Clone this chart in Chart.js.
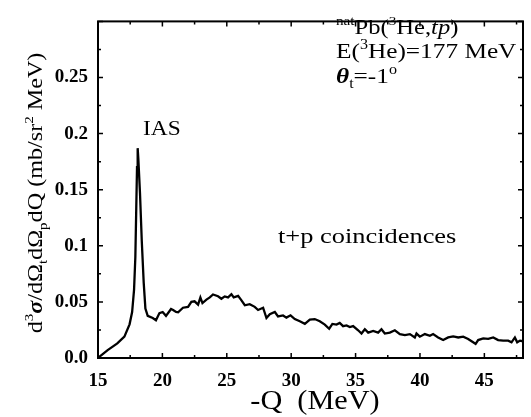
<!DOCTYPE html>
<html>
<head>
<meta charset="utf-8">
<script src="https://cdn.jsdelivr.net/npm/chart.js@4.4.0/dist/chart.umd.min.js"></script>
<style>
  html, body { margin: 0; padding: 0; background: #fff; }
</style>
</head>
<body>
<canvas id="spectrum" width="531" height="417"></canvas>
<script>
// -Q (MeV) and d3sigma/dOmega_t dOmega_p dQ (mb/sr^2 MeV)
const qMeV = [
  15.0, 15.1, 15.75, 16.5, 17.05, 17.45, 17.65, 17.8, 17.9, 17.97, 18.03, 18.08, 18.13,
  18.26, 18.4, 18.55, 18.68, 18.86, 19.25, 19.5, 19.77, 20.02, 20.28, 20.67, 20.83,
  21.06, 21.22, 21.6, 21.99, 22.25, 22.5, 22.77, 22.95, 23.11, 23.42, 23.68, 23.93,
  24.32, 24.58, 24.84, 25.1, 25.36, 25.54, 25.88, 26.14, 26.4, 26.78, 27.17, 27.43,
  27.82, 28.08, 28.34, 28.73, 28.98, 29.37, 29.63, 29.95, 30.28, 30.67, 31.06, 31.45,
  31.83, 32.22, 32.61, 32.95, 33.2, 33.52, 33.77, 34.03, 34.3, 34.55, 34.81, 35.2,
  35.46, 35.72, 35.98, 36.37, 36.75, 37.01, 37.27, 37.66, 38.05, 38.44, 38.83, 39.22,
  39.6, 39.73, 39.99, 40.38, 40.77, 41.02, 41.41, 41.8, 42.19, 42.58, 42.97, 43.36,
  43.74, 44.13, 44.32, 44.52, 44.91, 45.3, 45.69, 46.07, 46.46, 46.85, 47.11, 47.37,
  47.55, 47.77, 48.0
];
const crossSection = [
  0.0, 0.001, 0.007, 0.013, 0.019, 0.030, 0.041, 0.061, 0.090, 0.133, 0.170, 0.187, 0.178,
  0.147, 0.104, 0.067, 0.044, 0.0376, 0.0356, 0.0336, 0.040, 0.041, 0.0376, 0.0437, 0.0428,
  0.041, 0.0407, 0.0448, 0.0456, 0.050, 0.0505, 0.0476, 0.054, 0.049, 0.052, 0.054, 0.0566,
  0.055, 0.0528, 0.0549, 0.054, 0.0568, 0.054, 0.0554, 0.0514, 0.047, 0.048, 0.0456, 0.0428,
  0.0448, 0.0356, 0.039, 0.041, 0.037, 0.0379, 0.036, 0.038, 0.0347, 0.0327, 0.0304, 0.0342,
  0.0347, 0.0327, 0.0298, 0.0261, 0.0304, 0.0298, 0.0313, 0.0284, 0.029, 0.0276, 0.0284, 0.0247,
  0.0218, 0.0256, 0.0226, 0.0241, 0.0226, 0.0256, 0.0218, 0.0226, 0.0247, 0.0213, 0.0204, 0.0213,
  0.0183, 0.0218, 0.019, 0.0213, 0.0198, 0.0213, 0.0183, 0.016, 0.0183, 0.0192, 0.0183, 0.019,
  0.017, 0.014, 0.0126, 0.016, 0.0175, 0.017, 0.0183, 0.016, 0.0155, 0.0155, 0.014, 0.0183,
  0.014, 0.0155, 0.0149
];
const xTicks = [15, 20, 25, 30, 35, 40, 45];
const yTicks = [0, 0.05, 0.1, 0.15, 0.2, 0.25];

const SERIF = '"Liberation Serif", "Times New Roman", serif';

// draws a run of text pieces, some raised / lowered / italic
function drawRich(ctx, parts, x, y, size, stretch, anchor) {
  const fontOf = p => (p.style || '') + ' ' + Math.round(size * (p.sup || p.sub ? 0.62 : 1)) + 'px ' + SERIF;
  let w = 0;
  parts.forEach(p => { ctx.font = fontOf(p); p.w = ctx.measureText(p.t).width; w += p.w; });
  ctx.save();
  ctx.translate(x, y);
  ctx.scale(stretch, 1);
  ctx.fillStyle = '#000';
  ctx.textAlign = 'left';
  ctx.textBaseline = 'alphabetic';
  let cx = anchor === 'center' ? -w / 2 : 0;
  parts.forEach(p => {
    ctx.font = fontOf(p);
    const dy = p.sup ? -size * 0.42 : p.sub ? size * 0.22 : 0;
    ctx.fillText(p.t, cx, dy);
    cx += p.w;
  });
  ctx.restore();
}

const frameAndLabels = {
  id: 'frameAndLabels',
  afterDraw(chart) {
    const { ctx, chartArea: a, scales: { x, y } } = chart;
    ctx.save();
    ctx.strokeStyle = '#000';
    ctx.lineWidth = 1.5;
    // inward ticks, every 2.5 MeV and every 0.025
    for (let i = 0; i * 2.5 + 15 <= 48; i++) {
      const px = x.getPixelForValue(15 + i * 2.5);
      const len = i % 2 === 0 ? 5 : 3;
      ctx.beginPath();
      ctx.moveTo(px, a.bottom); ctx.lineTo(px, a.bottom - len);
      ctx.moveTo(px, a.top); ctx.lineTo(px, a.top + len);
      ctx.stroke();
    }
    for (let i = 0; i <= 12; i++) {
      const py = y.getPixelForValue(i * 0.025);
      const len = i % 2 === 0 ? 5 : 3;
      ctx.beginPath();
      ctx.moveTo(a.left, py); ctx.lineTo(a.left + len, py);
      ctx.moveTo(a.right, py); ctx.lineTo(a.right - len, py);
      ctx.stroke();
    }
    ctx.lineWidth = 2;
    ctx.strokeRect(a.left, a.top, a.right - a.left, a.bottom - a.top);
    ctx.restore();

    // y axis title
    ctx.save();
    ctx.translate(42, 193);
    ctx.rotate(-Math.PI / 2);
    drawRich(ctx, [
      { t: 'd' }, { t: '3', sup: true }, { t: 'σ', style: 'italic bold' }, { t: '/dΩ' },
      { t: 't', sub: true }, { t: 'dΩ' }, { t: 'p', sub: true }, { t: 'dQ (mb/sr' },
      { t: '2', sup: true }, { t: ' MeV)' }
    ], 0, 0, 21, 1.15, 'center');
    ctx.restore();

    // x axis title
    drawRich(ctx, [{ t: '-Q  (MeV)' }], 315, 409, 27, 1.12, 'center');

    // reaction annotation
    drawRich(ctx, [
      { t: 'nat', sup: true }, { t: 'Pb(' }, { t: '3', sup: true }, { t: 'He,' },
      { t: 'tp', style: 'italic' }, { t: ')' }
    ], 336, 34, 21, 1.17, 'left');
    drawRich(ctx, [
      { t: 'E(' }, { t: '3', sup: true }, { t: 'He)=177 MeV' }
    ], 336, 58, 22, 1.15, 'left');
    drawRich(ctx, [
      { t: 'θ', style: 'italic bold' }, { t: 't', sub: true }, { t: '=-1' }, { t: 'o', sup: true }
    ], 336, 83, 22, 1.15, 'left');

    drawRich(ctx, [{ t: 'IAS' }], 143, 135, 20, 1.17, 'left');
    drawRich(ctx, [{ t: 't+p coincidences' }], 278, 243, 22, 1.2, 'left');
  }
};

new Chart(document.getElementById('spectrum'), {
  type: 'line',
  data: {
    datasets: [{
      data: qMeV.map((q, i) => ({ x: q, y: crossSection[i] })),
      borderColor: '#000',
      borderWidth: 2.3,
      pointRadius: 0,
      tension: 0,
      fill: false
    }]
  },
  options: {
    responsive: false,
    animation: false,
    layout: { padding: { left: 0, top: 10, right: 8, bottom: 0 } },
    plugins: { legend: { display: false }, tooltip: { enabled: false } },
    scales: {
      x: {
        type: 'linear',
        min: 15,
        max: 48,
        grid: { display: false, drawTicks: false },
        border: { display: false },
        afterBuildTicks: s => { s.ticks = xTicks.map(v => ({ value: v })); },
        afterFit: s => { s.height = 59; },
        ticks: {
          color: '#000',
          padding: 12,
          maxRotation: 0,
          font: { family: SERIF, size: 19, weight: 'bold' }
        }
      },
      y: {
        min: 0,
        max: 0.3,
        grid: { display: false, drawTicks: false },
        border: { display: false },
        afterBuildTicks: s => { s.ticks = yTicks.map(v => ({ value: v })); },
        afterFit: s => { s.width = 98; },
        ticks: {
          color: '#000',
          padding: 10,
          font: { family: SERIF, size: 19, weight: 'bold' },
          callback: v => (v === 0 ? '0.0' : String(v))
        }
      }
    }
  },
  plugins: [frameAndLabels]
});
</script>
</body>
</html>
